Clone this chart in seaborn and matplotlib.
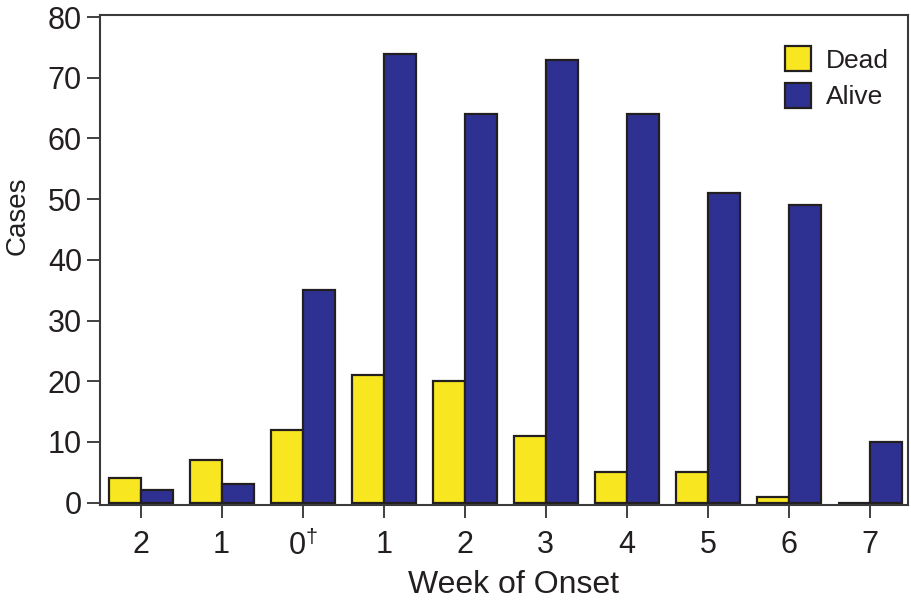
import matplotlib
matplotlib.use("Agg")
import matplotlib.pyplot as plt
import seaborn as sns
import pandas as pd

# Data
weeks = [-2, -1, 0, 1, 2, 3, 4, 5, 6, 7]
week_labels = ["2", "1", "0$^{\\dagger}$", "1", "2", "3", "4", "5", "6", "7"]
dead = [4, 7, 12, 21, 20, 11, 5, 5, 1, 0]
alive = [2, 3, 35, 74, 64, 73, 64, 51, 49, 10]
y_ticks = [0, 10, 20, 30, 40, 50, 60, 70, 80]

df = pd.DataFrame({
    "week": weeks * 2,
    "cases": dead + alive,
    "status": ["Dead"] * len(weeks) + ["Alive"] * len(weeks),
})

sns.set_style("ticks")
plt.rcParams["font.family"] = ["Liberation Sans", "DejaVu Sans"]
plt.rcParams["mathtext.fontset"] = "custom"
plt.rcParams["mathtext.rm"] = "Liberation Sans"

ink = "#231f20"
fig = plt.figure(figsize=(9.12, 6.04), dpi=100)
ax = fig.add_axes([100 / 912, 1 - 505 / 604, 808 / 912, 490 / 604])

sns.barplot(data=df, x="week", y="cases", hue="status", order=weeks,
            hue_order=["Dead", "Alive"], palette=["#f8e620", "#2e3192"],
            saturation=1, width=0.79, edgecolor=ink, linewidth=1.6, ax=ax)

ax.set_xlim(-0.5, 9.47)
ax.set_ylim(-0.4, 80.35)
ax.set_yticks(y_ticks)
ax.set_xticks(range(len(weeks)))
ax.set_xticklabels(week_labels)
ax.tick_params(axis="y", labelsize=22, length=9.5, width=1.2, color=ink, labelcolor=ink, pad=3.5)
ax.tick_params(axis="x", labelsize=22, length=9, width=1.2, color=ink, labelcolor=ink, pad=9)
for s in ax.spines.values():
    s.set_linewidth(1.5)
    s.set_color("#3a3a3a")

ax.set_xlabel("Week of Onset", fontsize=23, color=ink)
ax.xaxis.set_label_coords(0.512, -0.133)
ax.set_ylabel("Cases", fontsize=20, color=ink)
ax.yaxis.set_label_coords(-0.086, 0.59)

ax.legend(loc="upper right", bbox_to_anchor=(0.990, 0.958), frameon=False,
          fontsize=19, handlelength=1.0, handleheight=1.1, handletextpad=0.57,
          labelspacing=0.38, borderaxespad=0, labelcolor=ink)

fig.savefig("out.png", dpi=100)
